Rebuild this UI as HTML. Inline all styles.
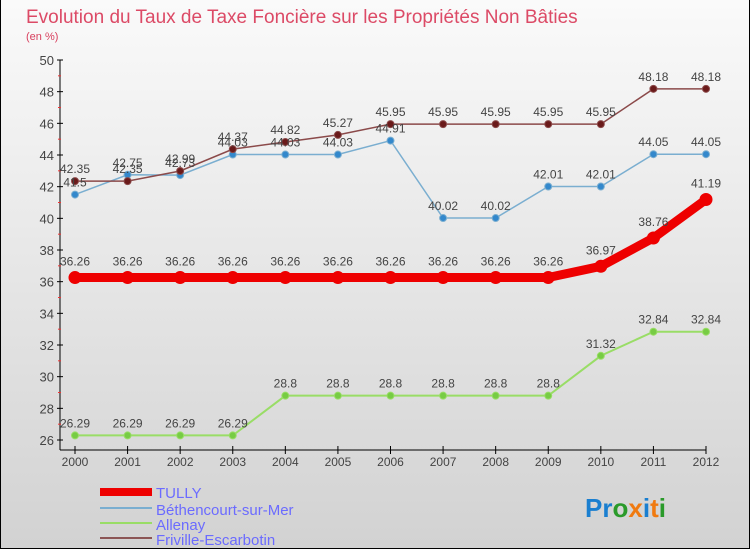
<!DOCTYPE html>
<html><head><meta charset="utf-8"><style>
html,body{margin:0;padding:0}
body{width:750px;height:550px;overflow:hidden;font-family:"Liberation Sans",sans-serif}
#frame{position:absolute;left:0;top:0;width:748px;height:548px;border-left:1px solid #000;border-right:1px solid #000;border-bottom:1px solid #000;background:linear-gradient(#fafafa,#d2d2d2)}
svg text{font-family:"Liberation Sans Narrow","Liberation Sans",sans-serif}
</style></head><body>
<div id="frame"></div>
<svg id="chart" width="750" height="550" style="position:absolute;left:0;top:0">
<text x="26" y="23" font-size="19" fill="#dc4a66">Evolution du Taux de Taxe Foncière sur les Propriétés Non Bâties</text>
<text x="26" y="40" font-size="11" fill="#d8405e">(en %)</text>
<g id="axes"></g><g id="series"></g><g id="labels"></g>
<g>
<rect x="100" y="488" width="52" height="8" fill="#e00"/>
<text x="156" y="498" font-size="15" fill="#6b6bff">TULLY</text>
<line x1="100" y1="508" x2="152" y2="508" stroke="#7aaed0" stroke-width="2"/>
<text x="156" y="515" font-size="15" fill="#6b6bff">Béthencourt-sur-Mer</text>
<line x1="100" y1="523" x2="152" y2="523" stroke="#99dd66" stroke-width="2"/>
<text x="156" y="530" font-size="15" fill="#6b6bff">Allenay</text>
<line x1="100" y1="538" x2="152" y2="538" stroke="#8b5555" stroke-width="2"/>
<text x="156" y="545" font-size="15" fill="#6b6bff">Friville-Escarbotin</text>
</g>
<text x="585" y="517" font-size="26" font-weight="bold"><tspan fill="#1a7fd0">Pr</tspan><tspan fill="#2a9a2a">o</tspan><tspan fill="#f07a10">x</tspan><tspan fill="#1a7fd0">i</tspan><tspan fill="#f07a10">t</tspan><tspan fill="#2a9a2a">i</tspan></text>
</svg>
<script>
const years=[2000,2001,2002,2003,2004,2005,2006,2007,2008,2009,2010,2011,2012];
const yTicks=[26,28,30,32,34,36,38,40,42,44,46,48,50];
const tully=[36.26,36.26,36.26,36.26,36.26,36.26,36.26,36.26,36.26,36.26,36.97,38.76,41.19];
const beth=[41.5,42.75,42.73,44.03,44.03,44.03,44.91,40.02,40.02,42.01,42.01,44.05,44.05];
const allenay=[26.29,26.29,26.29,26.29,28.8,28.8,28.8,28.8,28.8,28.8,31.32,32.84,32.84];
const friville=[42.35,42.35,42.99,44.37,44.82,45.27,45.95,45.95,45.95,45.95,45.95,48.18,48.18];
const NS="http://www.w3.org/2000/svg";
const X=i=>75+i*(706-75)/(years.length-1);
const Y=v=>60+(50-v)*(440-60)/24;
function mk(t,a,p){const e=document.createElementNS(NS,t);for(const k in a)e.setAttribute(k,a[k]);p.appendChild(e);return e;}
const ax=document.getElementById('axes');
let l=mk('line',{x1:60,y1:60,x2:60,y2:450,stroke:'#000'},ax);


l=mk('line',{x1:60,y1:450,x2:706,y2:450,stroke:'#000'},ax);


yTicks.forEach((v,k)=>{
  mk('line',{x1:57,y1:Y(v),x2:63,y2:Y(v),stroke:'#000'},ax);
  if(k<yTicks.length-1) mk('line',{x1:58,y1:Y(v+1),x2:61,y2:Y(v+1),stroke:'#e33'},ax);
  const t=mk('text',{x:54,y:Y(v)+5,'font-size':13,fill:'#444','text-anchor':'end'},ax);
  t.textContent=v;
  
  
});
years.forEach((y,i)=>{
  mk('line',{x1:X(i),y1:446,x2:X(i),y2:454,stroke:'#000'},ax);
  const t=mk('text',{x:X(i),y:466,'font-size':12,fill:'#444','text-anchor':'middle'},ax);
  t.textContent=y;
  
  
});
const sg=document.getElementById('series'),lg=document.getElementById('labels');
function draw(name,vals,col,dot,w,r,dy){
  const pl=mk('polyline',{points:vals.map((v,i)=>X(i)+','+Y(v)).join(' '),fill:'none',stroke:col,'stroke-width':w},sg);
  
  
  vals.forEach((v,i)=>{
    const c=mk('circle',{cx:X(i),cy:Y(v),r:r,fill:dot,stroke:col,'stroke-width':1},sg);
    
    
    const t=mk('text',{x:X(i),y:Y(v)+dy,'font-size':12,fill:'#444','text-anchor':'middle'},lg);
    t.textContent=v;
    
    
  });
}
draw('allenay',allenay,'#99dd66','#77cc44',2,3.5,-8);
draw('bethencourt',beth,'#7aaed0','#3388cc',1.5,3.5,-8);
draw('friville',friville,'#8b4a4a','#6a1a1a',1.5,3.5,-8);
draw('tully',tully,'#ee0000','#ee0000',9,6,-12);
</script>
</body></html>
